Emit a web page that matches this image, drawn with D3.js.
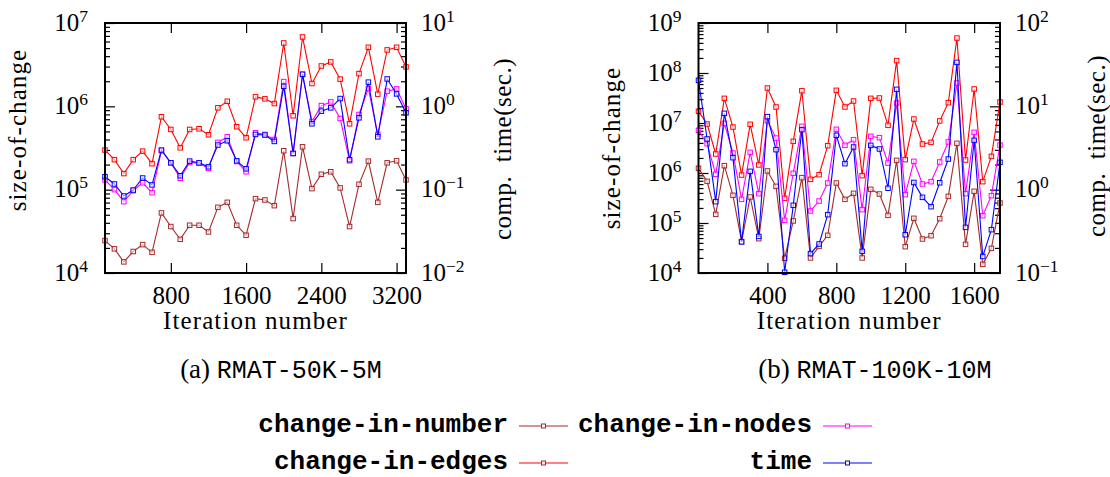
<!DOCTYPE html>
<html>
<head>
<meta charset="utf-8">
<script src="https://cdn.jsdelivr.net/npm/d3@7"></script>
<style>
  body { margin: 0; background: #fff; }
</style>
</head>
<body>
<svg id="chart" width="1110" height="477"></svg>
<script>
// ---- data ----------------------------------------------------------------
// (a) RMAT-50K-5M
const itersA = [100, 200, 300, 400, 500, 600, 700, 800, 900, 1000, 1100, 1200, 1300, 1400, 1500, 1600, 1700,
  1800, 1900, 2000, 2100, 2200, 2300, 2400, 2500, 2600, 2700, 2800, 2900, 3000, 3100, 3200, 3300];
const numberA = [24500, 19500, 13600, 18100, 21900, 17700, 52600, 36100, 25400, 37400, 37400, 31100, 61400,
  70500, 37400, 28400, 78000, 75200, 64300, 293000, 45000, 327000, 103000, 153000, 164000, 105000, 36100,
  116000, 220000, 70500, 210000, 222000, 131000];
const edgesA = [299000, 229000, 156000, 229000, 290000, 205000, 749000, 528000, 318000, 528000, 538000, 456000,
  960000, 1150000, 569000, 420000, 1300000, 1230000, 1080000, 5760000, 770000, 6800000, 1880000, 3050000,
  3410000, 2120000, 617000, 2470000, 5110000, 1400000, 4750000, 5110000, 2970000];
const nodesA = [131000, 100000, 71800, 97300, 121000, 92000, 293000, 210000, 137000, 212000, 208000, 180000,
  369000, 431000, 218000, 164000, 482000, 460000, 400000, 1980000, 272000, 2410000, 658000, 1020000, 1130000,
  715000, 222000, 798000, 1640000, 460000, 1520000, 1620000, 933000];
const timeA = [0.143, 0.117, 0.084, 0.099, 0.138, 0.114, 0.299, 0.21, 0.147, 0.22, 0.21, 0.188, 0.343, 0.386,
  0.222, 0.178, 0.46, 0.452, 0.379, 1.74, 0.272, 2.43, 0.617, 0.875, 0.959, 1.24, 0.229, 0.728, 1.95, 0.431,
  2.13, 1.41, 0.836];

// (b) RMAT-100K-10M
const itersB = [0, 50, 100, 150, 200, 250, 300, 350, 400, 450, 500, 550, 600, 650, 700, 750, 800, 850, 900,
  950, 1000, 1050, 1100, 1150, 1200, 1250, 1300, 1350, 1400, 1450, 1500, 1550, 1600, 1650, 1700, 1750];
const numberB = [1240000, 681000, 149000, 1400000, 358000, 42400, 331000, 48600, 1100000, 541000, 19700,
  110000, 807000, 20000, 34100, 56700, 631000, 297000, 392000, 20000, 471000, 380000, 142000, 1790000, 33600,
  124000, 47900, 55800, 122000, 341000, 3920000, 37400, 430000, 14900, 31100, 251000];
const edgesB = [17100000, 9550000, 2400000, 31100000, 8300000, 910000, 9400000, 1450000, 50000000, 20900000,
  311000, 4300000, 44300000, 747000, 926000, 3520000, 45000000, 20900000, 27500000, 885000, 31100000,
  31600000, 8990000, 177000000, 1850000, 12000000, 3800000, 4100000, 11000000, 25500000, 500000000, 1820000,
  47900000, 671000, 2150000, 26300000];
const nodesB = [7130000, 3860000, 940000, 9850000, 2510000, 297000, 2590000, 386000, 11100000, 5000000,
  113000, 985000, 8580000, 174000, 275000, 630000, 7470000, 3580000, 4640000, 185000, 5410000, 5090000,
  1580000, 25100000, 369000, 1710000, 603000, 671000, 1660000, 4170000, 63100000, 386000, 6500000, 140000,
  352000, 3630000];
const timeB = [20.5, 4.06, 0.718, 8.24, 2.42, 0.236, 1.66, 0.275, 7.52, 3.02, 0.102, 0.649, 5.25, 0.171,
  0.223, 0.501, 4.49, 2.05, 3.25, 0.182, 3.4, 3.08, 1.04, 16.0, 0.288, 1.22, 0.809, 0.625, 1.21, 2.33, 33.7,
  0.353, 3.91, 0.158, 0.331, 2.13];

// axis ticks
const xTicksA = [800, 1600, 2400, 3200];
const xTicksB = [400, 800, 1200, 1600];
const sizeTicksA = [1e4, 1e5, 1e6, 1e7];
const timeTicksA = [1e-2, 1e-1, 1e0, 1e1];
const sizeTicksB = [1e4, 1e5, 1e6, 1e7, 1e8, 1e9];
const timeTicksB = [1e-1, 1e0, 1e1, 1e2];

// series names and colours
const seriesNames = ["change-in-number", "change-in-nodes", "change-in-edges", "time"];
const seriesColors = ["#a52a2a", "#ff00ff", "#ff0000", "#0000ff"];

// ---- drawing -------------------------------------------------------------
const SERIF = "'Liberation Serif', 'Times New Roman', serif";
const MONO = "'Liberation Mono', 'Courier New', monospace";
const svg = d3.select("#chart");
svg.append("rect").attr("width", 1110).attr("height", 477).attr("fill", "#fff");

const isDecade = v => Math.abs(Math.log10(v) - Math.round(Math.log10(v))) < 1e-9;

function powerLabel(sel, v, x, anchor) {
  const e = Math.round(Math.log10(v));
  const t = sel.append("text")
    .attr("x", x).attr("y", 7)
    .attr("text-anchor", anchor)
    .attr("font-family", SERIF).attr("font-size", 25).attr("fill", "#000")
    .text("10");
  t.append("tspan").attr("dy", -9).attr("font-size", 17.5)
    .text(e < 0 ? "\u2212" + (-e) : String(e));
}

function panel(p) {
  const g = svg.append("g");
  const x = d3.scaleLinear().domain(p.xDomain).range([p.left, p.right]);
  const yS = d3.scaleLog().domain(p.sizeDomain).range([p.bottom, p.top]);
  const yT = d3.scaleLog().domain(p.timeDomain).range([p.bottom, p.top]);

  const strip = a => { a.select(".domain").remove(); a.selectAll("line").attr("stroke", "#000").attr("stroke-width", 1.2); };

  // left axis: size-of-change
  g.append("g").attr("transform", `translate(${p.left},0)`)
    .call(d3.axisLeft(yS).tickValues(yS.ticks().filter(v => !isDecade(v))).tickSizeInner(-5).tickSizeOuter(0).tickFormat(""))
    .call(strip);
  g.append("g").attr("transform", `translate(${p.left},0)`)
    .call(d3.axisLeft(yS).tickValues(p.sizeTicks).tickSizeInner(-10).tickSizeOuter(0).tickFormat(""))
    .call(strip)
    .call(a => a.selectAll(".tick").each(function (v) { powerLabel(d3.select(this), v, -17, "end"); }));

  // right axis: computation time
  g.append("g").attr("transform", `translate(${p.right},0)`)
    .call(d3.axisRight(yT).tickValues(yT.ticks().filter(v => !isDecade(v))).tickSizeInner(-5).tickSizeOuter(0).tickFormat(""))
    .call(strip);
  g.append("g").attr("transform", `translate(${p.right},0)`)
    .call(d3.axisRight(yT).tickValues(p.timeTicks).tickSizeInner(-10).tickSizeOuter(0).tickFormat(""))
    .call(strip)
    .call(a => a.selectAll(".tick").each(function (v) { powerLabel(d3.select(this), v, 15, "start"); }));

  // x axes (bottom labelled, top mirrored)
  g.append("g").attr("transform", `translate(0,${p.bottom})`)
    .call(d3.axisBottom(x).tickValues(p.xTicks).tickSizeInner(-10).tickSizeOuter(0).tickFormat(d3.format("d")))
    .call(strip)
    .call(a => a.selectAll("text").attr("dy", null).attr("y", 31)
      .attr("font-family", SERIF).attr("font-size", 25).attr("fill", "#000"));
  g.append("g").attr("transform", `translate(0,${p.top})`)
    .call(d3.axisTop(x).tickValues(p.xTicks).tickSizeInner(-10).tickSizeOuter(0).tickFormat(""))
    .call(strip);

  // series
  const series = [
    { v: p.number, y: yS, c: seriesColors[0] },
    { v: p.edges, y: yS, c: seriesColors[2] },
    { v: p.nodes, y: yS, c: seriesColors[1] },
    { v: p.time, y: yT, c: seriesColors[3] }
  ];
  series.forEach(s => {
    const pts = d3.zip(p.iters, s.v);
    const line = d3.line().x(d => x(d[0])).y(d => s.y(d[1]));
    g.append("path").datum(pts).attr("d", line)
      .attr("fill", "none").attr("stroke", s.c).attr("stroke-width", 1.1);
    g.append("g").selectAll("rect").data(pts).join("rect")
      .attr("x", d => x(d[0]) - 2.25).attr("y", d => s.y(d[1]) - 2.25)
      .attr("width", 4.5).attr("height", 4.5)
      .attr("fill", "#fff").attr("fill-opacity", 0.6)
      .attr("stroke", s.c).attr("stroke-width", 1);
  });

  // frame
  g.append("rect").attr("x", p.left).attr("y", p.top)
    .attr("width", p.right - p.left).attr("height", p.bottom - p.top)
    .attr("fill", "none").attr("stroke", "#000").attr("stroke-width", 2);

  // axis titles
  g.append("text").attr("transform", `translate(${p.left - 79},${p.leftTitleY}) rotate(-90)`)
    .attr("text-anchor", "middle").attr("font-family", SERIF).attr("font-size", 25)
    .attr("letter-spacing", 1.1)
    .text("size-of-change");
  g.append("text").attr("transform", `translate(${p.right + 105},${p.rightTitleY}) rotate(-90)`)
    .attr("text-anchor", "middle").attr("font-family", SERIF).attr("font-size", 25)
    .attr("letter-spacing", 0.5).attr("xml:space", "preserve")
    .text("comp.  time(sec.)");
  g.append("text").attr("x", (p.left + p.right) / 2).attr("y", p.bottom + 56)
    .attr("text-anchor", "middle").attr("font-family", SERIF).attr("font-size", 25)
    .attr("letter-spacing", 1.1)
    .text("Iteration number");

  // caption
  const cap = g.append("text").attr("x", p.capX).attr("y", 378)
    .attr("text-anchor", "middle").attr("font-family", SERIF).attr("font-size", 27);
  cap.append("tspan").text(p.capTag + " ");
  cap.append("tspan").attr("font-family", MONO).attr("font-size", 25).text(p.capName);
}

panel({
  left: 105, right: 406, top: 23, bottom: 273,
  xDomain: [100, 3300], sizeDomain: [1e4, 1e7], timeDomain: [1e-2, 1e1],
  xTicks: xTicksA, sizeTicks: sizeTicksA, timeTicks: timeTicksA,
  iters: itersA, number: numberA, edges: edgesA, nodes: nodesA, time: timeA,
  leftTitleY: 130, rightTitleY: 149, capX: 281, capTag: "(a)", capName: "RMAT-50K-5M"
});
panel({
  left: 698.5, right: 1000, top: 23, bottom: 273,
  xDomain: [0, 1750], sizeDomain: [1e4, 1e9], timeDomain: [1e-1, 1e2],
  xTicks: xTicksB, sizeTicks: sizeTicksB, timeTicks: timeTicksB,
  iters: itersB, number: numberB, edges: edgesB, nodes: nodesB, time: timeB,
  leftTitleY: 148, rightTitleY: 146, capX: 875, capTag: "(b)", capName: "RMAT-100K-10M"
});

// ---- legend ----------------------------------------------------------------
const legendCols = [508, 812];
const legendRows = [432, 469];
const legend = svg.append("g");
seriesNames.forEach((name, i) => {
  const cx = legendCols[i % 2], by = legendRows[Math.floor(i / 2)];
  const ly = by - 6;
  legend.append("text").attr("x", cx).attr("y", by).attr("text-anchor", "end")
    .attr("font-family", MONO).attr("font-weight", "bold").attr("font-size", 26)
    .text(name);
  legend.append("line").attr("x1", cx + 11).attr("x2", cx + 60).attr("y1", ly).attr("y2", ly)
    .attr("stroke", seriesColors[i]).attr("stroke-width", 1.1);
  legend.append("rect").attr("x", cx + 35.5 - 2).attr("y", ly - 2).attr("width", 4).attr("height", 4)
    .attr("fill", "#fff").attr("stroke", seriesColors[i]).attr("stroke-width", 1);
});
</script>
</body>
</html>
